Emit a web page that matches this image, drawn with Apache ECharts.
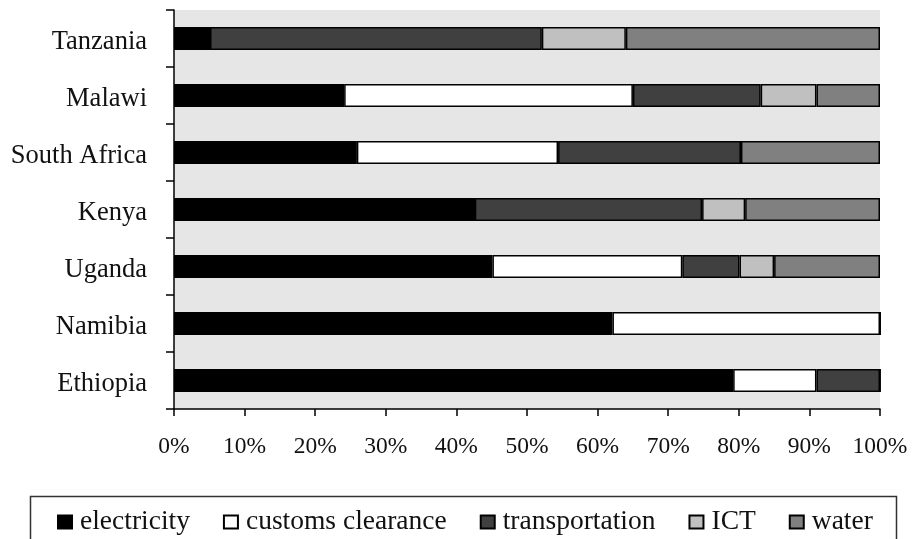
<!DOCTYPE html>
<html>
<head>
<meta charset="utf-8">
<script src="https://cdn.jsdelivr.net/npm/echarts@6/dist/echarts.min.js"></script>
<style>
  html, body { margin: 0; padding: 0; background: #fff; }
  #chart { width: 915px; height: 539px; }
</style>
</head>
<body>
<div id="chart"></div>
<script>
// categories, bottom to top
var countries = ['Ethiopia', 'Namibia', 'Uganda', 'Kenya', 'South Africa', 'Malawi', 'Tanzania'];

// shares in %
var electricity = [79.2, 62.1, 45.1, 42.6, 25.9, 24.1, 5.1];
var customs = [11.8, 37.9, 26.9, 0, 28.5, 40.9, 0];
var transportation = [9.0, 0, 8.1, 32.2, 25.9, 18.1, 47.0];
var ict = [0, 0, 4.9, 6.1, 0, 7.9, 11.9];
var water = [0, 0, 15.0, 19.1, 19.7, 9.0, 36.0];

var seriesNames = ['electricity', 'customs clearance', 'transportation', 'ICT', 'water'];
var seriesData = [electricity, customs, transportation, ict, water];
var seriesColors = ['#000000', '#ffffff', '#404040', '#c0c0c0', '#808080'];

var fontFam = '"Liberation Serif", "DejaVu Serif", serif';

var chart = echarts.init(document.getElementById('chart'));

var series = seriesNames.map(function (name, i) {
  return {
    name: name,
    type: 'bar',
    stack: 'total',
    barWidth: 23,
    data: seriesData[i],
    itemStyle: {
      color: seriesColors[i],
      borderColor: '#000',
      borderWidth: 1.5
    },
    emphasis: { disabled: true }
  };
});

var option = {
  animation: false,
  backgroundColor: '#fff',
  grid: {
    left: 174,
    right: 35,
    top: 10,
    bottom: 130,
    show: true,
    backgroundColor: '#e6e6e6',
    borderWidth: 0
  },
  // legend frame
  graphic: [{
    type: 'rect',
    left: 28,
    top: 494,
    shape: { width: 866, height: 60 },
    style: { fill: 'none', stroke: '#333', lineWidth: 1.5 },
    silent: true
  }],
  legend: {
    left: 52,
    top: 503,
    icon: 'rect',
    itemWidth: 14,
    itemHeight: 13,
    itemGap: 33,
    textStyle: {
      fontFamily: fontFam,
      fontSize: 27.5,
      color: '#111',
      padding: [0, 0, 0, 3]
    },
    data: seriesNames
  },
  xAxis: {
    type: 'value',
    min: 0,
    max: 100,
    interval: 10,
    axisLine: { show: true, lineStyle: { color: '#000', width: 1.5 } },
    axisTick: { show: true, length: 7, lineStyle: { color: '#000', width: 1.5 } },
    splitLine: { show: false },
    axisLabel: {
      formatter: '{value}%',
      fontFamily: fontFam,
      fontSize: 23.5,
      color: '#111',
      margin: 26
    }
  },
  yAxis: {
    type: 'category',
    data: countries,
    axisLine: { show: true, lineStyle: { color: '#000', width: 1.5 } },
    axisTick: { show: true, length: 8, alignWithLabel: false, lineStyle: { color: '#000', width: 1.5 } },
    axisLabel: {
      fontFamily: fontFam,
      fontSize: 26.5,
      color: '#111',
      margin: 27,
      verticalAlign: 'top',
      lineHeight: 8
    }
  },
  series: series
};

chart.setOption(option);
</script>
</body>
</html>
